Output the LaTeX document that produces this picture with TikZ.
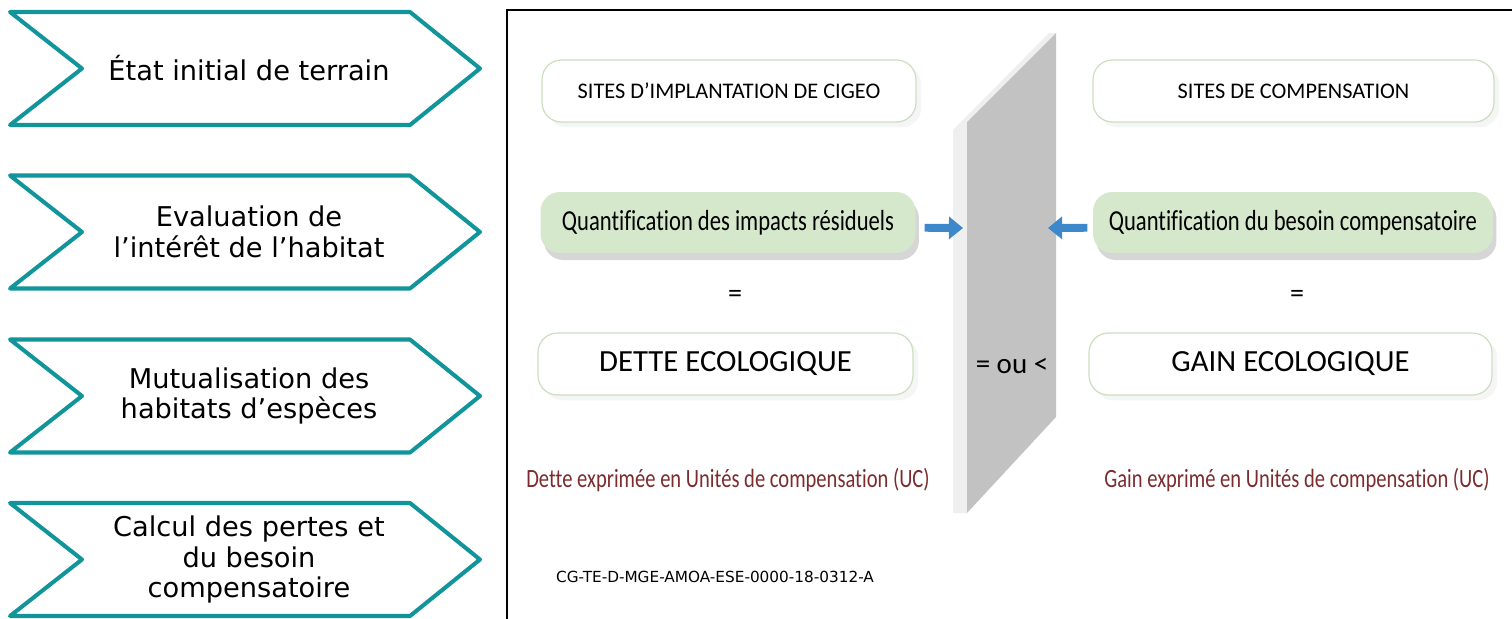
\documentclass[tikz,border=0pt]{standalone}
\usepackage{fontspec}
\setmainfont{DejaVu Sans}
\newfontfamily\panelfont{Carlito}
\newfontfamily\narrowfont[FakeStretch=0.78, Ligatures=NoCommon]{Carlito}
\usetikzlibrary{arrows.meta,shadows}
\definecolor{tealline}{HTML}{12959A}
\definecolor{boxgreen}{HTML}{D5E8CB}
\definecolor{boxedge}{HTML}{CBE0C0}
\definecolor{wallgrey}{HTML}{C2C2C2}
\definecolor{wallside}{HTML}{EFEFEF}
\definecolor{arrowblue}{HTML}{3C88CA}
\definecolor{notered}{HTML}{7B2C2E}
\begin{document}
\begin{tikzpicture}[x=0.02cm, y=-0.02cm,
    chevron/.style={draw=tealline, line width=2.3pt, line join=round, fill=white},
    steptext/.style={align=center, font=\fontsize{15.5}{17.6}\selectfont},
    sitebox/.style={draw=boxedge, line width=0.7pt, rounded corners=11pt, fill=white,
        minimum height=1.24cm, inner sep=0pt,
        drop shadow={shadow xshift=3pt, shadow yshift=-3pt, opacity=0.08, fill=gray}},
    quantbox/.style={rounded corners=11pt, fill=boxgreen, minimum height=1.22cm, inner sep=0pt,
        drop shadow={shadow xshift=2pt, shadow yshift=-4pt, opacity=0.4, fill=gray!80}},
    bluearrow/.style={draw=arrowblue, line width=4.5pt, -{Triangle[length=8pt, width=12.5pt]}},
    note/.style={text=notered, font=\narrowfont\fontsize{15}{17}\selectfont}
]
\useasboundingbox (0,0) rectangle (1512,619);
\foreach \i / \yc / \txt in {1/68.5/{État initial de terrain},
    2/232/{Evaluation de\\l’intérêt de l’habitat},
    3/396/{Mutualisation des\\habitats d’espèces},
    4/559.5/{Calcul des pertes et\\du besoin\\compensatoire}}
{
    \draw[chevron] (10,\yc-56.5) -- (410,\yc-56.5) -- (480,\yc) -- (410,\yc+56.5)
        -- (10,\yc+56.5) -- (82,\yc) -- cycle;
    \node[steptext] (step\i) at (249,\yc) {\txt};
}
\draw[line width=1.1pt] (507,619) -- (507,10) -- (1512,10);
\fill[wallside] (953,130) -- (1049,33) -- (1056,33) -- (967,122) -- (967,513) -- (953,513) -- cycle;
\fill[wallgrey] (967,122) -- (1056,33) -- (1056,417) -- (967,513) -- cycle;
\node[font=\panelfont\fontsize{16.5}{18}\selectfont] (cmp) at (1012,366) {= ou <};
\coordinate (wallL) at (963,228);
\coordinate (wallR) at (1048,228);
\node[sitebox, minimum width=7.48cm, font=\panelfont\fontsize{12.7}{14}\selectfont] (site1) at (729,91) {SITES D’IMPLANTATION DE CIGEO};
\node[sitebox, minimum width=8.02cm, font=\panelfont\fontsize{12.7}{14}\selectfont] (site2) at (1293.5,91) {SITES DE COMPENSATION};
\node[quantbox, minimum width=7.5cm, font=\narrowfont\fontsize{16.5}{18}\selectfont] (quant1) at (728,222.5) {Quantification des impacts résiduels};
\node[quantbox, minimum width=8.0cm, font=\narrowfont\fontsize{16.5}{18}\selectfont] (quant2) at (1293,222.5) {Quantification du besoin compensatoire};
\node[font=\panelfont\fontsize{16}{18}\selectfont] (eq1) at (735,296) {=};
\node[font=\panelfont\fontsize{16}{18}\selectfont] (eq2) at (1297,296) {=};
\node[sitebox, minimum width=7.5cm, font=\panelfont\fontsize{17.5}{20}\selectfont] (dette) at (725.5,364) {DETTE ECOLOGIQUE};
\node[sitebox, minimum width=8.06cm, font=\panelfont\fontsize{17.5}{20}\selectfont] (gain) at (1290.5,364) {GAIN ECOLOGIQUE};
\node[note] (dettenote) at (728,480) {Dette exprimée en Unités de compensation (UC)};
\node[note] (gainnote) at (1297,480) {Gain exprimé en Unités de compensation (UC)};
\node[font=\fontsize{8.7}{10}\selectfont] (ref) at (715,577) {CG-TE-D-MGE-AMOA-ESE-0000-18-0312-A};
\draw[bluearrow] ([xshift=5pt, yshift=-3pt]quant1.east) -- (wallL);
\draw[bluearrow] ([xshift=-3pt, yshift=-3pt]quant2.west) -- (wallR);
\end{tikzpicture}
\end{document}
